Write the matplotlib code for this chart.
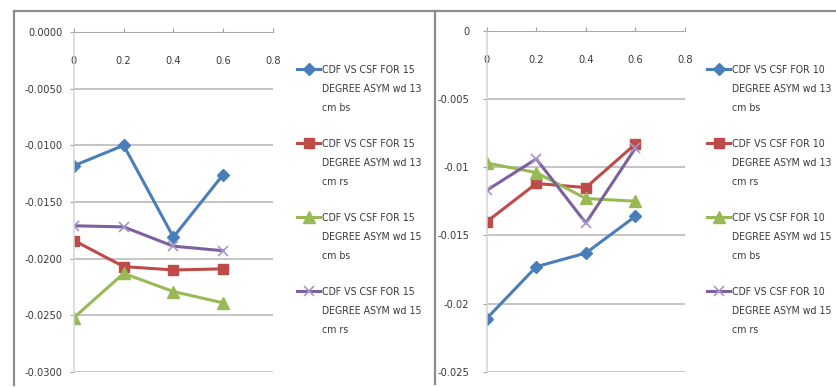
import matplotlib.pyplot as plt
from matplotlib import font_manager
from matplotlib.lines import Line2D

# pick a narrow sans face if one is around
fonts = font_manager.fontManager.ttflist
names_installed = {f.name for f in fonts}
if 'Liberation Sans Narrow' in names_installed:
    plt.rcParams['font.family'] = ['Liberation Sans Narrow', 'DejaVu Sans']
    FS = 9
elif any(f.name == 'DejaVu Sans' and f.stretch == 'condensed' for f in fonts):
    plt.rcParams['font.family'] = ['DejaVu Sans']
    plt.rcParams['font.stretch'] = 'condensed'
    FS = 7.6
else:
    plt.rcParams['font.family'] = ['Roboto', 'DejaVu Sans']
    FS = 7.8

x = [0, 0.2, 0.4, 0.6]
x_ticks = [0, 0.2, 0.4, 0.6, 0.8]
x_labels = ['0', '0.2', '0.4', '0.6', '0.8']

# 15 degree asymmetric runs
cdf15_wd13_bs = [-0.0118, -0.0100, -0.0181, -0.0126]
cdf15_wd13_rs = [-0.0184, -0.0207, -0.0210, -0.0209]
cdf15_wd15_bs = [-0.0252, -0.0213, -0.0229, -0.0239]
cdf15_wd15_rs = [-0.0171, -0.0172, -0.0189, -0.0193]
y15_ticks = [0, -0.005, -0.010, -0.015, -0.020, -0.025, -0.030]
y15_labels = ['0.0000', '-0.0050', '-0.0100', '-0.0150', '-0.0200', '-0.0250', '-0.0300']

# 10 degree asymmetric runs
cdf10_wd13_bs = [-0.0211, -0.0173, -0.0163, -0.0136]
cdf10_wd13_rs = [-0.0140, -0.0112, -0.0115, -0.0083]
cdf10_wd15_bs = [-0.0097, -0.0104, -0.0123, -0.0125]
cdf10_wd15_rs = [-0.0117, -0.0094, -0.0141, -0.0086]
y10_ticks = [0, -0.005, -0.010, -0.015, -0.020, -0.025]
y10_labels = ['0', '-0.005', '-0.01', '-0.015', '-0.02', '-0.025']

names = ['wd 13\ncm bs', 'wd 13\ncm rs', 'wd 15\ncm bs', 'wd 15\ncm rs']

styles = [
    dict(color='#4a7ebb', marker='D', markersize=6.5),
    dict(color='#be4b48', marker='s', markersize=7.5),
    dict(color='#98b954', marker='^', markersize=8.5),
    dict(color='#7d60a0', marker='x', markersize=7.5, mec='#a996c9', mew=1.2),
]

TEXT = '#3a3a3a'


def draw_panel(rect, series, deg, yticks, ylabels, ypad, legend_at):
    ax = fig.add_axes(rect)
    for vals, name, st in zip(series, names, styles):
        label = 'CDF VS CSF FOR %d\nDEGREE ASYM %s' % (deg, name)
        ax.plot(x, vals, lw=2.2, label=label, **st)

    ax.set_xlim(0, 0.8)
    ax.set_ylim(yticks[-1], 0)
    ax.set_xticks(x_ticks)
    ax.set_xticklabels(x_labels)
    ax.set_yticks(yticks)
    ax.set_yticklabels(ylabels)

    # x axis sits on y = 0 at the top, labels hang just below it
    ax.xaxis.set_ticks_position('top')
    ax.tick_params(axis='x', direction='out', length=3, color='#a0a0a0',
                   labelsize=FS + 0.3, labelcolor=TEXT, pad=-24)
    for lbl in ax.get_xticklabels():
        lbl.set_va('center')
    ax.tick_params(axis='y', direction='out', length=3, color='#a0a0a0',
                   labelsize=FS + 0.3, labelcolor=TEXT, pad=ypad)

    ax.grid(axis='y', color='#b4b4b4', lw=1.1)
    ax.set_axisbelow(True)
    for side in ['right', 'bottom']:
        ax.spines[side].set_visible(False)
    ax.spines['top'].set_color('#a8a8a8')
    ax.spines['left'].set_color('#d4d4d4')
    ax.spines['left'].set_linewidth(1.1)
    ax.patch.set_alpha(0)

    leg = ax.legend(loc='upper left', bbox_to_anchor=legend_at,
                    bbox_transform=fig.transFigure, frameon=False,
                    fontsize=FS, handlelength=2.2, handletextpad=0.15,
                    labelspacing=2.5, borderpad=0, borderaxespad=0)
    for t in leg.get_texts():
        t.set_color(TEXT)
        t.set_linespacing(2.1)
    # keep each marker level with the first line of its label
    for column in leg.get_children()[0].get_children()[1].get_children():
        for item in column.get_children():
            item.align = 'top'
    return ax


fig = plt.figure(figsize=(8.36, 3.87), dpi=100)

draw_panel([0.0885, 0.0388, 0.2377, 0.8786],
           [cdf15_wd13_bs, cdf15_wd13_rs, cdf15_wd15_bs, cdf15_wd15_rs],
           15, y15_ticks, y15_labels, 5, (297 / 836, 1 - 65 / 387))
draw_panel([0.5822, 0.0395, 0.2372, 0.8811],
           [cdf10_wd13_bs, cdf10_wd13_rs, cdf10_wd15_bs, cdf10_wd15_rs],
           10, y10_ticks, y10_labels, 9.5, (707 / 836, 1 - 65 / 387))

# chart frames
frame = dict(color='#8c8c8c', lw=1.6, transform=fig.transFigure)
fig.add_artist(Line2D([14 / 836, 1], [1 - 11 / 387, 1 - 11 / 387], **frame))
fig.add_artist(Line2D([14 / 836, 14 / 836], [1 - 11 / 387, 1 - 385 / 387], **frame))
fig.add_artist(Line2D([435 / 836, 435 / 836], [1 - 11 / 387, 1 - 384 / 387], **frame))

fig.savefig('out.png', dpi=100)
